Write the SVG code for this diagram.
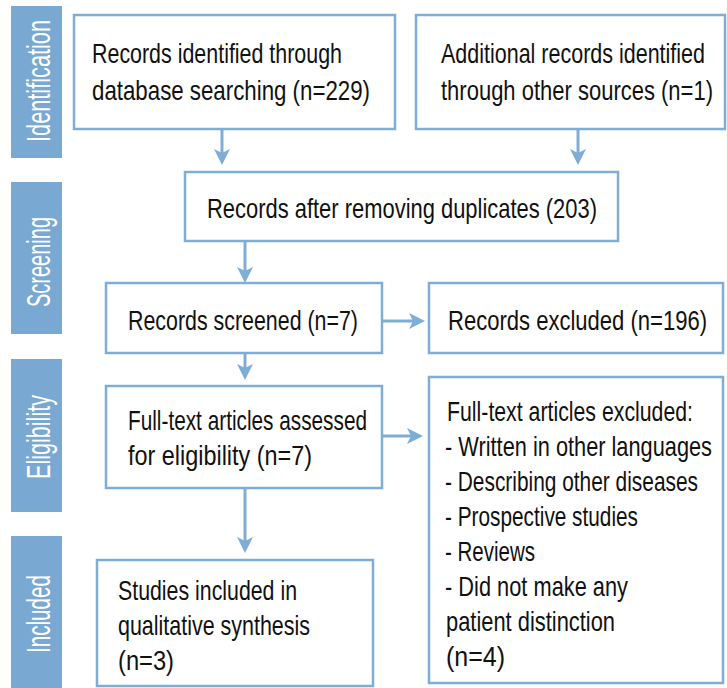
<svg xmlns="http://www.w3.org/2000/svg" width="727" height="688" viewBox="0 0 727 688">
<style>
.bar{fill:#79a9d3}
.side{font-family:"Liberation Sans",Arial,sans-serif;font-size:34px;fill:#fff;text-anchor:middle}
.box{fill:#fff;stroke:#7eadd6;stroke-width:2.5}
.t{font-family:"Liberation Sans",Arial,sans-serif;font-size:28px;fill:#111}
.conn{stroke:#7eadd6;stroke-width:3;fill:none;marker-end:url(#ah)}
</style>
<defs>
<marker id="ah" viewBox="0 0 16 16" refX="4" refY="8" markerWidth="16" markerHeight="16" markerUnits="userSpaceOnUse" orient="auto">
<path d="M0,0 L16,8 L0,16 L4,8 Z" fill="#7eadd6"/>
</marker>
</defs>
<rect width="727" height="688" fill="#fff"/>
<g id="phase-identification"><rect class="bar" x="11" y="6" width="51" height="152"/><text class="side" transform="translate(50,81) rotate(-90)" textLength="122" lengthAdjust="spacingAndGlyphs">Identification</text></g>
<g id="phase-screening"><rect class="bar" x="11" y="182" width="51" height="152"/><text class="side" transform="translate(50,262) rotate(-90)" textLength="90" lengthAdjust="spacingAndGlyphs">Screening</text></g>
<g id="phase-eligibility"><rect class="bar" x="11" y="359" width="51" height="153"/><text class="side" transform="translate(50,437) rotate(-90)" textLength="84" lengthAdjust="spacingAndGlyphs">Eligibility</text></g>
<g id="phase-included"><rect class="bar" x="11" y="536" width="51" height="160"/><text class="side" transform="translate(50,614) rotate(-90)" textLength="78" lengthAdjust="spacingAndGlyphs">Included</text></g>

<g id="db-records"><rect class="box" x="74" y="15" width="321" height="114"/>
<text class="t" x="92" y="63" textLength="250" lengthAdjust="spacingAndGlyphs">Records identified through</text>
<text class="t" x="92" y="100" textLength="278" lengthAdjust="spacingAndGlyphs">database searching (n=229)</text></g>
<g id="other-records"><rect class="box" x="416" y="15" width="309" height="114"/>
<text class="t" x="441" y="63" textLength="264" lengthAdjust="spacingAndGlyphs">Additional records identified</text>
<text class="t" x="441" y="100" textLength="272" lengthAdjust="spacingAndGlyphs">through other sources (n=1)</text></g>
<g id="dedup"><rect class="box" x="185" y="172" width="433" height="69"/>
<text class="t" x="207" y="218" textLength="390" lengthAdjust="spacingAndGlyphs">Records after removing duplicates (203)</text></g>
<g id="screened"><rect class="box" x="106" y="283" width="276" height="70"/>
<text class="t" x="128" y="330" textLength="230" lengthAdjust="spacingAndGlyphs">Records screened (n=7)</text></g>
<g id="excluded"><rect class="box" x="429" y="283" width="294" height="70"/>
<text class="t" x="448" y="330" textLength="259" lengthAdjust="spacingAndGlyphs">Records excluded (n=196)</text></g>
<g id="fulltext"><rect class="box" x="106" y="386" width="276" height="102"/>
<text class="t" x="128" y="430" textLength="239" lengthAdjust="spacingAndGlyphs">Full-text articles assessed</text>
<text class="t" x="128" y="465" textLength="184" lengthAdjust="spacingAndGlyphs">for eligibility (n=7)</text></g>
<g id="fulltext-excluded"><rect class="box" x="429" y="377" width="294" height="306"/>
<text class="t" x="447" y="421" textLength="246" lengthAdjust="spacingAndGlyphs">Full-text articles excluded:</text>
<text class="t" x="445" y="456" textLength="267" lengthAdjust="spacingAndGlyphs">- Written in other languages</text>
<text class="t" x="445" y="491" textLength="253" lengthAdjust="spacingAndGlyphs">- Describing other diseases</text>
<text class="t" x="445" y="526" textLength="193" lengthAdjust="spacingAndGlyphs">- Prospective studies</text>
<text class="t" x="445" y="561" textLength="90" lengthAdjust="spacingAndGlyphs">- Reviews</text>
<text class="t" x="445" y="596" textLength="183" lengthAdjust="spacingAndGlyphs">- Did not make any</text>
<text class="t" x="446" y="631" textLength="169" lengthAdjust="spacingAndGlyphs">patient distinction</text>
<text class="t" x="446" y="666" textLength="59" lengthAdjust="spacingAndGlyphs">(n=4)</text></g>
<g id="included"><rect class="box" x="97" y="560" width="276" height="126"/>
<text class="t" x="118" y="600" textLength="179" lengthAdjust="spacingAndGlyphs">Studies included in</text>
<text class="t" x="118" y="635" textLength="192" lengthAdjust="spacingAndGlyphs">qualitative synthesis</text>
<text class="t" x="118" y="670" textLength="56" lengthAdjust="spacingAndGlyphs">(n=3)</text></g>

<g id="connectors">
<line class="conn" x1="222" y1="130" x2="222" y2="153"/>
<line class="conn" x1="578" y1="130" x2="578" y2="153"/>
<line class="conn" x1="245" y1="242" x2="245" y2="271"/>
<line class="conn" x1="245" y1="354" x2="245" y2="368"/>
<line class="conn" x1="245" y1="489" x2="245" y2="541"/>
<line class="conn" x1="383" y1="321" x2="413" y2="321"/>
<line class="conn" x1="383" y1="436" x2="411" y2="436"/>
</g>
</svg>
